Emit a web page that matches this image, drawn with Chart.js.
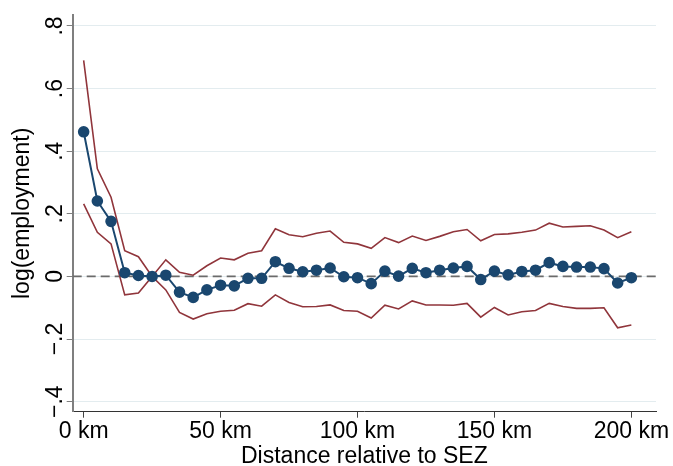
<!DOCTYPE html>
<html>
<head>
<meta charset="utf-8">
<script src="https://cdn.jsdelivr.net/npm/chart.js@4.4.1/dist/chart.umd.min.js"></script>
<style>
  html, body { margin: 0; padding: 0; background: #fff; }
</style>
</head>
<body>
<canvas id="myChart" width="673" height="466"></canvas>
<script>
  // distance bins (km) and point estimates with 95% CI
  var distKm = [0, 5, 10, 15, 20, 25, 30, 35, 40, 45, 50, 55, 60, 65, 70, 75, 80, 85, 90, 95, 100,
                105, 110, 115, 120, 125, 130, 135, 140, 145, 150, 155, 160, 165, 170, 175, 180, 185, 190, 195, 200];
  var estimate = [0.462, 0.241, 0.176, 0.012, 0.003, 0, 0.004, -0.05, -0.067, -0.043, -0.028,
                  -0.03, -0.006, -0.006, 0.047, 0.026, 0.015, 0.02, 0.027, -0.001, -0.004,
                  -0.023, 0.017, 0.001, 0.026, 0.012, 0.02, 0.027, 0.032, -0.01, 0.017,
                  0.005, 0.016, 0.02, 0.044, 0.032, 0.03, 0.03, 0.025, -0.021, -0.004];
  var upperCI = [0.69, 0.344, 0.253, 0.082, 0.063, 0, 0.053, 0.013, 0.004, 0.034, 0.059,
                 0.053, 0.074, 0.082, 0.152, 0.133, 0.127, 0.138, 0.145, 0.109, 0.104,
                 0.09, 0.124, 0.108, 0.129, 0.115, 0.128, 0.143, 0.15, 0.114, 0.134,
                 0.136, 0.141, 0.148, 0.17, 0.158, 0.16, 0.162, 0.148, 0.124, 0.143];
  var lowerCI = [0.232, 0.141, 0.104, -0.059, -0.053, 0, -0.043, -0.115, -0.136, -0.119, -0.111,
                 -0.108, -0.087, -0.095, -0.059, -0.083, -0.097, -0.096, -0.091, -0.109, -0.111,
                 -0.133, -0.092, -0.104, -0.078, -0.091, -0.091, -0.092, -0.086, -0.13, -0.099,
                 -0.123, -0.113, -0.109, -0.086, -0.096, -0.102, -0.102, -0.1, -0.164, -0.155];

  var xTickValues = [0, 50, 100, 150, 200];
  var xTickLabels = ["0 km", "50 km", "100 km", "150 km", "200 km"];
  var yTickValues = [-0.4, -0.2, 0, 0.2, 0.4, 0.6, 0.8];
  var yTickLabels = ["\u2212.4", "\u2212.2", "0", ".2", ".4", ".6", ".8"];

  var navy = "#1a476f";
  var maroon = "#90353b";

  var toPoints = vals => distKm.map((d, i) => ({ x: d, y: vals[i] }));

  /* dashed reference line at zero */
  var zeroLine = {
    id: 'zeroLine',
    beforeDatasetsDraw: chart => {
      var ctx = chart.ctx;
      var area = chart.chartArea;
      var y = chart.scales.y.getPixelForValue(0);
      ctx.save();
      ctx.strokeStyle = "#6b6b6b";
      ctx.lineWidth = 1.8;
      ctx.setLineDash([9, 5]);
      ctx.beginPath();
      ctx.moveTo(area.left, y);
      ctx.lineTo(area.right, y);
      ctx.stroke();
      ctx.restore();
    }
  };

  Chart.defaults.font.family = "'Liberation Sans', Arial, sans-serif";
  Chart.defaults.font.size = 23;
  Chart.defaults.color = "#000";

  new Chart("myChart", {
    type: "scatter",
    data: {
      datasets: [{
        data: toPoints(upperCI),
        showLine: true,
        borderColor: maroon,
        borderWidth: 1.6,
        pointRadius: 0,
        order: 2
      }, {
        data: toPoints(lowerCI),
        showLine: true,
        borderColor: maroon,
        borderWidth: 1.6,
        pointRadius: 0,
        order: 2
      }, {
        data: toPoints(estimate),
        showLine: true,
        borderColor: navy,
        borderWidth: 2,
        backgroundColor: navy,
        pointBackgroundColor: navy,
        pointBorderColor: navy,
        pointRadius: 4.8,
        order: 1
      }]
    },
    options: {
      responsive: false,
      animation: false,
      layout: { padding: { top: 15, right: 17, left: 0, bottom: 0 } },
      plugins: {
        legend: { display: false },
        tooltip: { enabled: false }
      },
      scales: {
        x: {
          type: "linear",
          min: -4,
          max: 209,
          afterBuildTicks: axis => { axis.ticks = xTickValues.map(v => ({ value: v })); },
          afterFit: axis => { axis.height = 54.3; },
          border: { color: "#333", width: 1 },
          grid: { drawOnChartArea: false, drawTicks: true, tickLength: 6, tickColor: "#444" },
          ticks: {
            padding: 0,
            maxRotation: 0,
            callback: v => xTickLabels[xTickValues.indexOf(v)]
          },
          title: {
            display: true,
            text: "Distance relative to SEZ",
            font: { size: 23, lineHeight: 1 },
            padding: { top: 0, bottom: -2.5 }
          }
        },
        y: {
          min: -0.432,
          max: 0.835,
          afterBuildTicks: axis => { axis.ticks = yTickValues.map(v => ({ value: v })); },
          afterFit: axis => { axis.width = 72.7; },
          border: { color: "#7f7f7f", width: 2 },
          grid: { color: "#e3ecef", lineWidth: 1, tickLength: 6, tickColor: "#7f7f7f" },
          ticks: {
            minRotation: 90,
            maxRotation: 90,
            crossAlign: "center",
            padding: -5,
            callback: v => yTickLabels[yTickValues.findIndex(t => Math.abs(t - v) < 1e-9)]
          },
          title: {
            display: true,
            text: "log(employment)",
            font: { size: 23, lineHeight: 1 },
            padding: { top: 11, bottom: 0 }
          }
        }
      }
    },
    plugins: [zeroLine]
  });
</script>
</body>
</html>
